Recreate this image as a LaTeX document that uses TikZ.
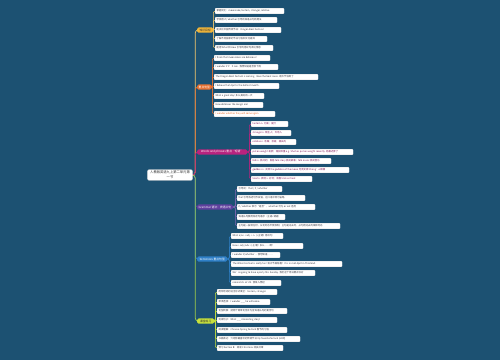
\documentclass[tikz,border=0pt]{standalone}
\usepackage{fontspec}
\setmainfont{Noto Sans CJK SC}
\usetikzlibrary{calc}
\definecolor{bgc}{RGB}{28,81,114}
\definecolor{cA}{RGB}{240,182,58}
\definecolor{cB}{RGB}{230,112,48}
\definecolor{cC}{RGB}{184,35,126}
\definecolor{cD}{RGB}{96,64,158}
\definecolor{cE}{RGB}{47,128,200}
\definecolor{cF}{RGB}{200,224,60}
\definecolor{leaftxt}{RGB}{60,60,70}
\pgfdeclarelayer{bglayer}
\pgfdeclarelayer{lines}
\pgfsetlayers{bglayer,lines,main}
\tikzset{
  leaf/.style={draw=black!15, line width=0.2pt, fill=white, rounded corners=0.8pt,
    inner xsep=1.5pt, inner ysep=0pt, minimum height=5.6pt, anchor=west,
    font=\fontsize{2.4}{2.8}\selectfont},
  blabel/.style={rounded corners=1.5pt, inner xsep=1.5pt, inner ysep=0pt,
    minimum height=5.4pt, anchor=west, font=\fontsize{2.8}{3.2}\selectfont},
  conn/.style={line width=0.5pt, rounded corners=2pt},
  trunk/.style={line width=0.7pt, rounded corners=3pt},
}
\newcommand\leafnode[6]{\node[leaf,text=#6] (#1) at (#2,#3) {\hbox to \dimexpr#4pt-3pt\relax{#5\hss}};}
\newcommand\branchlink[3]{\draw[conn,#3] (#1.east) -- ($(#1.east -| #2.west)+(-1.6,0)$) |- (#2.west);}
\begin{document}
\begin{tikzpicture}[x=1pt,y=-1pt]
\useasboundingbox (0,0) rectangle (500,360);
\begin{pgfonlayer}{bglayer}
\fill[bgc] (0,0) rectangle (500,360);
\end{pgfonlayer}

% central node
\node[fill=white, draw=black!20, line width=0.2pt, rounded corners=1.5pt, inner sep=1.6pt,
  text width=42pt, align=center, font=\fontsize{3.3}{4.6}\selectfont, text=black!80]
  (C) at (170,175) {人教版英语九上第二单元第\\一节};

% branch labels
\node[blabel, fill=cA, text=black!80, minimum width=16pt] (LA) at (197,30) {知识目标};
\node[blabel, fill=cB, text=white, minimum width=14pt] (LB) at (197,87) {重点句型};
\node[blabel, fill=cC, text=white, minimum width=50pt] (LC) at (197,152) {Words and phrases 重点“短语”};
\node[blabel, fill=cD, text=white, minimum width=35pt] (LD) at (197,207) {Grammar 语法：宾语从句};
\node[blabel, fill=cE, text=white, minimum width=30pt] (LE) at (197,259) {Sentences 重点句型};
\node[blabel, fill=cF, text=black!80, minimum width=17pt] (LF) at (197,321) {课堂练习};

% branch A
\leafnode{a1}{215}{11}{69}{掌握词汇：mooncake, lantern, stranger, relative}{leaftxt}
\leafnode{a2}{215}{20}{62}{学会用 if / whether 引导的宾语从句的用法}{leaftxt}
\leafnode{a3}{215}{30}{66}{能谈论中国传统节日：Dragon Boat Festival}{leaftxt}
\leafnode{a4}{215}{39}{52}{了解不同国家的节日习俗和文化差异}{leaftxt}
\leafnode{a5}{215}{48}{58}{能用 What 和 How 引导的感叹句表达情感}{leaftxt}

% branch B
\leafnode{b1}{214}{58}{56}{I think that mooncakes are delicious!}{leaftxt}
\leafnode{b2}{214}{67}{64}{I wonder if it'll rain. 我想知道是否会下雨}{leaftxt}
\leafnode{b3}{214}{77}{104}{The Dragon Boat Festival is coming. I love the boat races. 端午节快到了}{leaftxt}
\leafnode{b4}{214}{86}{65}{I believe that April is the hottest month.}{leaftxt}
\leafnode{b5}{214}{96}{50}{What a great day! 多么美好的一天}{leaftxt}
\leafnode{b6}{214}{105}{49}{How delicious the zongzi are!}{leaftxt}
\leafnode{b7}{214}{114}{61}{I wonder whether they will come again.}{cB}

% branch C
\leafnode{c1}{251}{124}{37}{lantern n. 灯笼；提灯}{cC!70!black}
\leafnode{c2}{251}{133}{40}{stranger n. 陌生人；外地人}{cC!70!black}
\leafnode{c3}{251}{142}{45}{relative n. 亲属；亲戚；相关的}{cC!70!black}
\leafnode{c4}{251}{152}{102}{put on weight 发胖；增加体重 e.g. She has put on weight recently. 她最近胖了}{cC!70!black}
\leafnode{c5}{251}{161}{80}{folk n. 民间的；民俗 folk story 民间故事；folk music 民间音乐}{cC!70!black}
\leafnode{c6}{251}{170}{98}{goddess n. 女神 the goddess of the moon 月亮女神 Chang'e 嫦娥}{cC!70!black}
\leafnode{c7}{251}{179}{61}{treat n. 款待 v. 对待；请客 trick or treat}{cC!70!black}

% branch D
\leafnode{d1}{237}{189}{45}{引导词：that / if / whether}{leaftxt}
\leafnode{d2}{237}{198}{68}{that 引导陈述句作宾语，在口语中常可省略}{leaftxt}
\leafnode{d3}{237}{207}{78}{if / whether 表示“是否”，whether 可与 or not 连用}{leaftxt}
\leafnode{d4}{237}{217}{48}{宾语从句要用陈述句语序（主语+谓语）}{leaftxt}
\leafnode{d5}{237}{226}{103}{主句是一般现在时，从句时态不受限制；主句是过去时，从句用过去的某种时态}{leaftxt}

% branch E
\leafnode{e1}{231}{236}{52}{What a/an + adj. + n. (+主谓)! 感叹句}{leaftxt}
\leafnode{e2}{231}{246}{72}{How + adj./adv. (+主谓)! 多么……啊！}{leaftxt}
\leafnode{e3}{231}{255}{49}{I wonder if/whether ... 我想知道……}{leaftxt}
\leafnode{e4}{231}{264}{111}{The Water Festival is really fun! 泼水节真有趣！It is in mid-April in Thailand.}{leaftxt}
\leafnode{e5}{231}{273}{84}{We're going to have a party this Sunday. 我们这个周日要开派对}{leaftxt}
\leafnode{e6}{231}{283}{50}{remind sb. of sth. 使某人想起}{leaftxt}

% branch F
\leafnode{f1}{217}{292}{60}{用所给词的适当形式填空：lantern, stranger}{leaftxt}
\leafnode{f2}{217}{302}{53}{单项选择：I wonder \_\_\_ he will come.}{leaftxt}
\leafnode{f3}{217}{311}{70}{句型转换：把两个简单句合并为含宾语从句的复合句}{leaftxt}
\leafnode{f4}{217}{320}{60}{完成句子：What \_\_\_ interesting story!}{leaftxt}
\leafnode{f5}{217}{330}{70}{阅读理解：Chinese Spring Festival 春节的习俗}{leaftxt}
\leafnode{f6}{217}{339}{83}{书面表达：介绍你最喜欢的传统节日 My favorite festival (80词)}{leaftxt}
\leafnode{f7}{217}{348}{66}{预习 Section B：阅读 Christmas 相关文章}{leaftxt}

\begin{pgfonlayer}{lines}
% trunks
\draw[trunk, cA!75!white] (C.east) -- ++(2.5,0) |- (LA.west);
\draw[trunk, cB] (C.east) -- ++(2.5,0) |- (LB.west);
\draw[trunk, cC] (C.east) -- ++(2.5,0) |- (LC.west);
\draw[trunk, cD] (C.east) -- ++(2.5,0) |- (LD.west);
\draw[trunk, cE] (C.east) -- ++(2.5,0) |- (LE.west);
\draw[trunk, cF!80!teal] (C.east) -- ++(2.5,0) |- (LF.west);
% children
\foreach \n in {a1,a2,a3,a4,a5} {\branchlink{LA}{\n}{cA!75!white}}
\foreach \n in {b1,b2,b3,b4,b5,b6,b7} {\branchlink{LB}{\n}{cB}}
\foreach \n in {c1,c2,c3,c4,c5,c6,c7} {\branchlink{LC}{\n}{cC}}
\foreach \n in {d1,d2,d3,d4,d5} {\branchlink{LD}{\n}{cD!80!white}}
\foreach \n in {e1,e2,e3,e4,e5,e6} {\branchlink{LE}{\n}{cE}}
\foreach \n in {f1,f2,f3,f4,f5,f6,f7} {\branchlink{LF}{\n}{cF}}
\end{pgfonlayer}
\end{tikzpicture}
\end{document}
